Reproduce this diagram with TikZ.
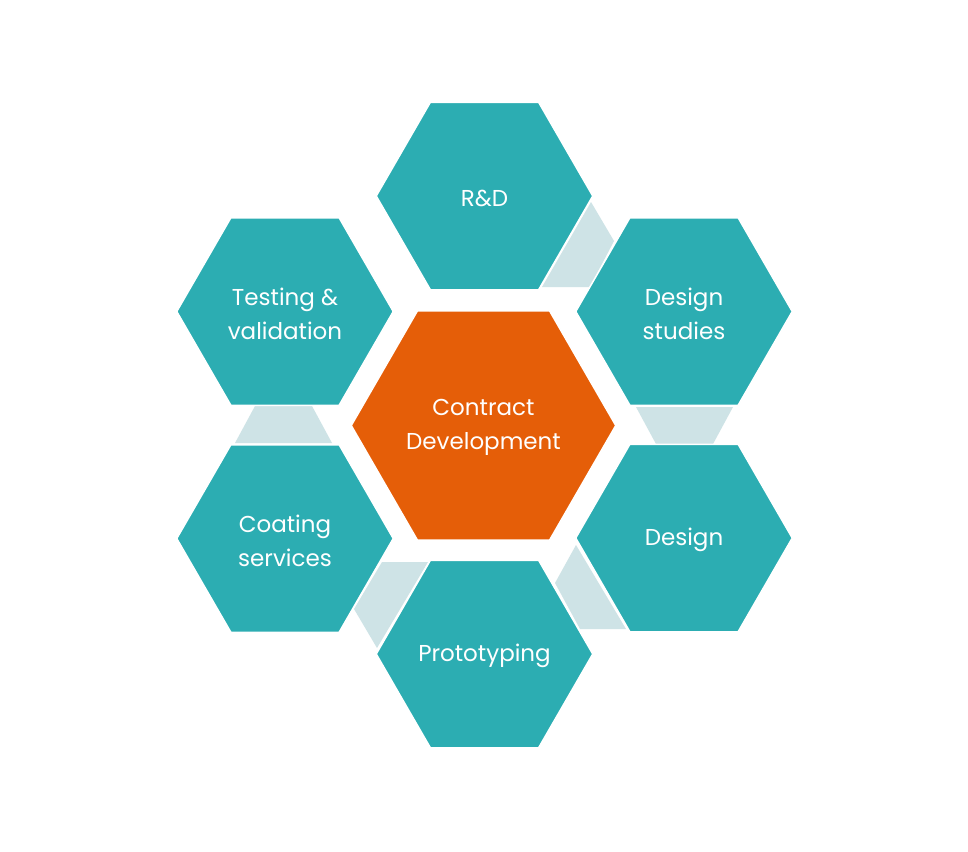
\documentclass[tikz,border=0pt]{standalone}
\usepackage{fontspec}
\setmainfont{Poppins}
\usetikzlibrary{shapes.geometric}
\definecolor{hexteal}{RGB}{44,173,178}
\definecolor{hexorange}{RGB}{229,94,8}
\definecolor{connlight}{RGB}{206,227,230}
\tikzset{
  hexbase/.style={regular polygon, regular polygon sides=6, inner sep=0pt, outer sep=0pt,
    draw=white, line width=1.5pt},
  hexouter/.style={hexbase, fill=hexteal, minimum size=216.5pt},
  hexcentre/.style={hexbase, fill=hexorange, minimum size=264.5pt},
  hexlabel/.style={text=white, align=center, inner sep=0pt, yshift=-2pt,
    font=\fontsize{23}{34}\selectfont},
  connpiece/.style={fill=connlight}
}
\begin{document}
\begin{tikzpicture}[x=1pt,y=-1pt]
\useasboundingbox[fill=white] (0,0) rectangle (968,851);
% connector pieces (behind the hexagons)
\fill[connpiece] (591,202) -- (614,241) -- (590,287) -- (542,287) -- cycle;
\fill[connpiece] (636,407) -- (733,407) -- (713,444) -- (656,444) -- cycle;
\fill[connpiece] (576,545) -- (555,583) -- (580,629) -- (626,629) -- cycle;
\fill[connpiece] (382,562) -- (428,562) -- (377,648) -- (354,609) -- cycle;
\fill[connpiece] (255,406) -- (312,406) -- (332,443) -- (235,443) -- cycle;
% hexagons
\node[hexcentre] (centre) at (483.5,425.5) {};
\node[hexouter] (rd) at (484.5,196) {};
\node[hexouter] (studies) at (684,311.5) {};
\node[hexouter] (design) at (684,538) {};
\node[hexouter] (proto) at (484.5,654) {};
\node[hexouter] (coating) at (285,538.5) {};
\node[hexouter] (testing) at (285,311.5) {};
% labels
\node[hexlabel] (centretext) at (centre) {Contract\\Development};
\node[hexlabel] (rdtext) at (rd) {R\&D};
\node[hexlabel] (studiestext) at (studies) {Design\\studies};
\node[hexlabel] (designtext) at (design) {Design};
\node[hexlabel] (prototext) at (proto) {Prototyping};
\node[hexlabel] (coatingtext) at (coating) {Coating\\services};
\node[hexlabel] (testingtext) at (testing) {Testing \&\\validation};
\end{tikzpicture}
\end{document}
